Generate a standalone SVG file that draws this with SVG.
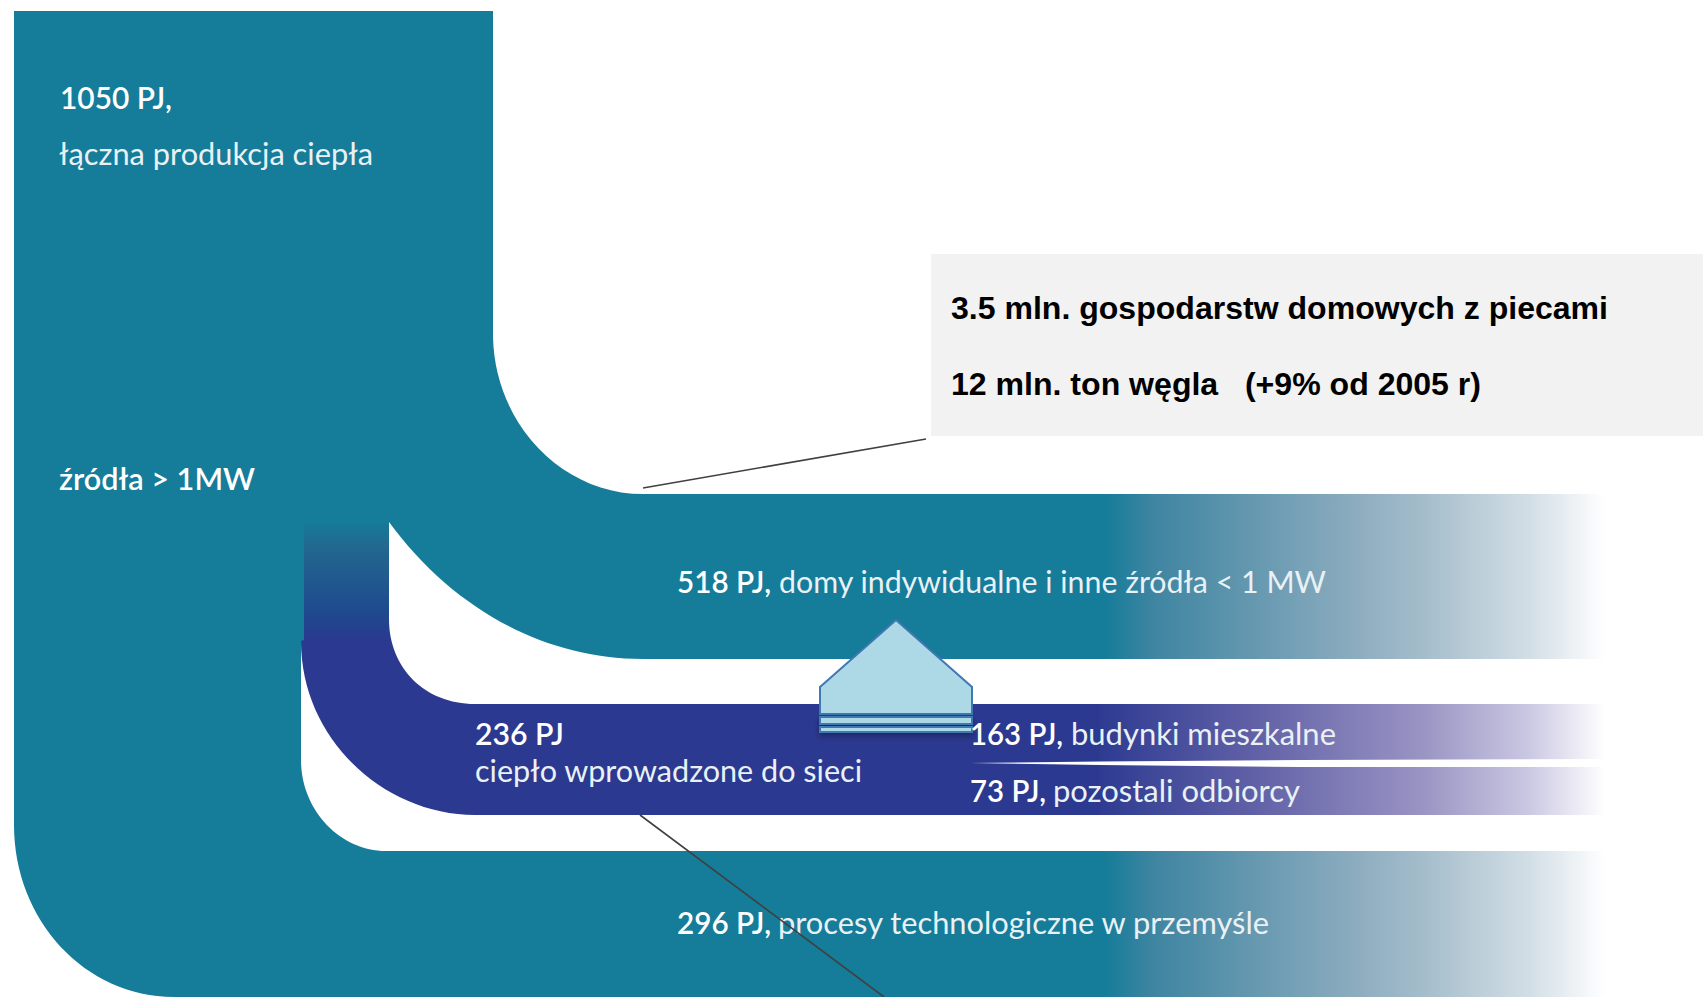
<svg xmlns="http://www.w3.org/2000/svg" width="1703" height="997" viewBox="0 0 1703 997">
<style>
.l{font-family:Lato,"Liberation Sans",sans-serif;font-size:31px;fill:#eaf1f5}
.b{font-weight:600;fill:#fff}
.a{font-family:"Liberation Sans",Arial,sans-serif;font-size:31px;font-weight:bold;fill:#000;white-space:pre}
.h{fill:#add8e6;stroke:#3f78b4;stroke-width:2}
.c{stroke:#404040;stroke-width:1.6;fill:none}
</style>
<defs>
<linearGradient id="gt" gradientUnits="userSpaceOnUse" x1="1104" y1="0" x2="1605" y2="0">
<stop offset="0" stop-color="#157c99"/><stop offset=".1" stop-color="#3f85a1"/><stop offset=".49" stop-color="#8aabbe"/><stop offset=".64" stop-color="#a5bdcb"/><stop offset=".85" stop-color="#d2dee6"/><stop offset="1" stop-color="#fff"/>
</linearGradient>
<linearGradient id="gb" gradientUnits="userSpaceOnUse" x1="1090" y1="0" x2="1605" y2="0">
<stop offset="0" stop-color="#2b3990"/><stop offset=".31" stop-color="#5f5fa6"/><stop offset=".65" stop-color="#9b95c4"/><stop offset=".85" stop-color="#cac7e2"/><stop offset="1" stop-color="#fff"/>
</linearGradient>
<linearGradient id="gv" gradientUnits="userSpaceOnUse" x1="0" y1="521" x2="0" y2="641">
<stop offset="0" stop-color="#157c99"/><stop offset=".2" stop-color="#22698f"/><stop offset=".75" stop-color="#1e4a8e"/><stop offset="1" stop-color="#2b3990"/>
</linearGradient>
<filter id="sh" x="-5%" y="-50%" width="110%" height="250%"><feDropShadow dx="0" dy="3" stdDeviation="3" flood-color="#000" flood-opacity=".35"/></filter>
</defs>
<g id="teal-flow">
<path fill="url(#gt)" d="M14 11H493V337C495 425 563 494 643 494H1605V659H643C540 659 450 605 389 522H310V641H301V760C301 810 340 851 386 851H1605V997H174C85 997 14 920 14 825Z"/>
</g>
<g id="blue-flow">
<path fill="url(#gv)" d="M304 522H389V619C389 668 425 704 475 704H1100V815H475C385 815 301 740 301 641L304 640Z"/>
<rect x="1090" y="704" width="515" height="111" fill="url(#gb)"/>
<path fill="#2b3990" d="M475 704H1100V815H475Z"/>
<path fill="#fff" d="M970 763L1100 761.500L1300 760L1605 759V767L1300 767L1100 765Z"/>
</g>
<g id="callout">
<rect x="931" y="254" width="772" height="182" fill="#f2f2f2"/>
<text class="a" x="951" y="319" textLength="657" lengthAdjust="spacingAndGlyphs">3.5 mln. gospodarstw domowych z piecami</text>
<text class="a" x="951" y="395" textLength="530" lengthAdjust="spacingAndGlyphs">12 mln. ton węgla   (+9% od 2005 r)</text>
</g>
<g id="house">
<path class="h" d="M820 687L896 620L972 687V714H820Z"/>
<g filter="url(#sh)"><rect class="h" x="820" y="717" width="152" height="7"/>
<rect class="h" x="820" y="727" width="152" height="5"/></g>
</g>
<g id="labels">
<text class="l b" x="60" y="109" textLength="112" lengthAdjust="spacingAndGlyphs">1050 PJ,</text>
<text class="l" x="59" y="165" textLength="314" lengthAdjust="spacingAndGlyphs">łączna produkcja ciepła</text>
<text class="l b" x="59" y="490" textLength="196" lengthAdjust="spacingAndGlyphs">źródła &gt; 1MW</text>
<text class="l b" x="677" y="593" textLength="94" lengthAdjust="spacingAndGlyphs">518 PJ,</text>
<text class="l" x="779" y="593" textLength="547" lengthAdjust="spacingAndGlyphs">domy indywidualne i inne źródła &lt; 1 MW</text>
<text class="l b" x="475" y="745" textLength="89" lengthAdjust="spacingAndGlyphs">236 PJ</text>
<text class="l" x="475" y="782" textLength="387" lengthAdjust="spacingAndGlyphs">ciepło wprowadzone do sieci</text>
<text class="l b" x="970" y="745" textLength="93" lengthAdjust="spacingAndGlyphs">163 PJ,</text>
<text class="l" x="1071" y="745" textLength="265" lengthAdjust="spacingAndGlyphs">budynki mieszkalne</text>
<text class="l b" x="970" y="802" textLength="76" lengthAdjust="spacingAndGlyphs">73 PJ,</text>
<text class="l" x="1053" y="802" textLength="247" lengthAdjust="spacingAndGlyphs">pozostali odbiorcy</text>
<text class="l b" x="677" y="934" textLength="94" lengthAdjust="spacingAndGlyphs">296 PJ,</text>
<text class="l" x="778" y="934" textLength="491" lengthAdjust="spacingAndGlyphs">procesy technologiczne w przemyśle</text>
</g>
<g id="connectors">
<line class="c" x1="643" y1="488" x2="926" y2="439"/>
<line class="c" x1="640" y1="815" x2="884" y2="997"/>
</g>
</svg>
